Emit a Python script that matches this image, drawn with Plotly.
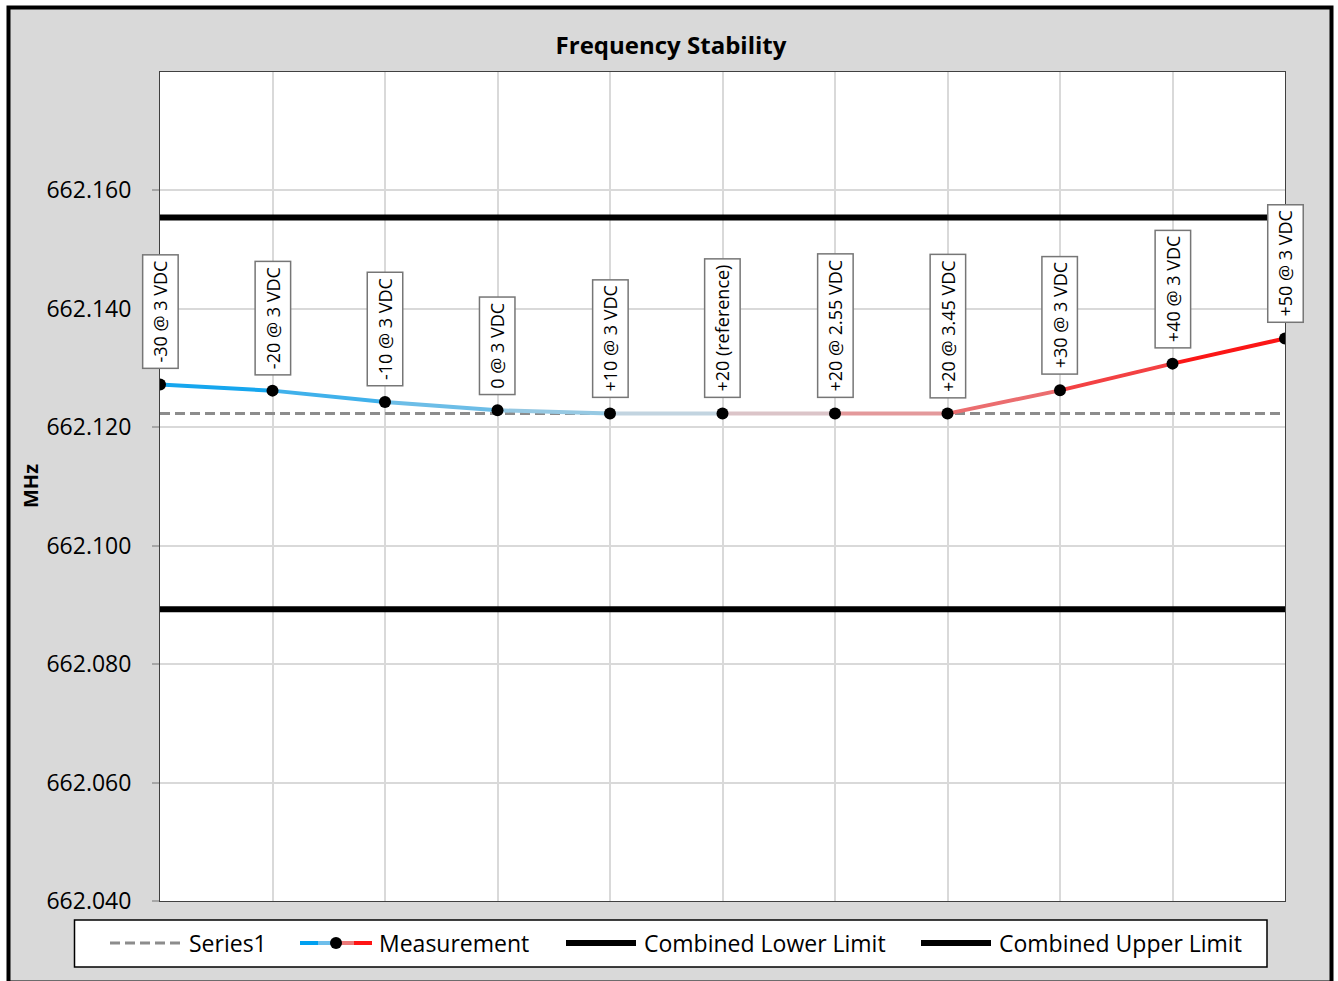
import plotly.graph_objects as go

# ---------------- data ----------------
labels = ["-30 @ 3 VDC", "-20 @ 3 VDC", "-10 @ 3 VDC", "0 @ 3 VDC", "+10 @ 3 VDC",
          "+20 (reference)", "+20 @ 2.55 VDC", "+20 @ 3.45 VDC", "+30 @ 3 VDC",
          "+40 @ 3 VDC", "+50 @ 3 VDC"]
measurement = [662.12721, 662.12619, 662.12427, 662.12287, 662.12231, 662.12231,
               662.12231, 662.12231, 662.12624, 662.13075, 662.13499]
series1 = [662.12231] * len(labels)
lower_limit = [662.08928] * len(labels)
upper_limit = [662.15544] * len(labels)
y_ticks = [662.040, 662.060, 662.080, 662.100, 662.120, 662.140, 662.160]
y_range = [662.040, 662.180]

# ---------------- layout helpers ----------------
W, H = 1338, 981
L, R, T, B = 160, 53, 72, 80
PW, PH = W - L - R, H - T - B


def fx(p):
    return (p - L) / PW


def fy(p):
    return (H - B - p) / PH


FONT = "'Open Sans', Lato, sans-serif"
xs = list(range(len(labels)))

# gradient colour stops for the measurement line
stops = [(0.0, (0, 160, 240)), (0.5, (215, 218, 222)), (1.0, (255, 0, 0))]


def grad(t):
    for (t0, c0), (t1, c1) in zip(stops[:-1], stops[1:]):
        if t0 <= t <= t1:
            f = (t - t0) / (t1 - t0)
            c = [round(a + (b - a) * f) for a, b in zip(c0, c1)]
            return "rgb(%d,%d,%d)" % tuple(c)
    return "rgb(255,0,0)"


fig = go.Figure()

fig.add_trace(go.Scatter(x=xs, y=series1, mode="lines", name="Series1",
                         line=dict(color="#8c8c8c", width=3, dash="10px,5px"),
                         showlegend=False, hoverinfo="skip"))
fig.add_trace(go.Scatter(x=xs, y=lower_limit, mode="lines", name="Combined Lower Limit",
                         line=dict(color="black", width=6), showlegend=False))
fig.add_trace(go.Scatter(x=xs, y=upper_limit, mode="lines", name="Combined Upper Limit",
                         line=dict(color="black", width=6), showlegend=False))

n = len(xs)
for i in range(n - 1):
    t = (i + 0.5) / (n - 1)
    fig.add_trace(go.Scatter(x=xs[i:i + 2], y=measurement[i:i + 2], mode="lines",
                             line=dict(color=grad(t), width=4), showlegend=False,
                             hoverinfo="skip", name="Measurement"))
fig.add_trace(go.Scatter(x=xs, y=measurement, mode="markers", name="Measurement",
                         marker=dict(color="black", size=12), showlegend=False,
                         text=labels))

annotations = []
for i, lab in enumerate(labels):
    annotations.append(dict(x=xs[i], y=measurement[i], xref="x", yref="y", text=lab,
                            textangle=-90, showarrow=False, yanchor="bottom",
                            xanchor="center", yshift=15,
                            font=dict(family=FONT, size=18, color="black"),
                            bgcolor="white", bordercolor="#767676", borderwidth=1.5,
                            borderpad=5))

# y axis title
annotations.append(dict(x=fx(30), y=fy(486), xref="paper", yref="paper", text="<b>MHz</b>",
                        textangle=-90, showarrow=False, xanchor="center", yanchor="middle",
                        font=dict(family=FONT, size=20, color="black")))

shapes = []
# outer chart area
shapes.append(dict(type="rect", xref="paper", yref="paper", x0=fx(8.5), x1=fx(1331.5),
                   y0=fy(982.5), y1=fy(7.5), fillcolor="#d9d9d9",
                   line=dict(color="black", width=4), layer="below"))
shapes.append(dict(type="rect", xref="paper", yref="paper", x0=0, x1=1, y0=0, y1=1,
                   fillcolor="white", line=dict(width=0), layer="below"))

# custom legend
ly = fy(943)
shapes.append(dict(type="rect", xref="paper", yref="paper", x0=fx(74.5), x1=fx(1267),
                   y0=fy(967), y1=fy(920), fillcolor="white",
                   line=dict(color="black", width=1.5), layer="above"))
shapes.append(dict(type="line", xref="paper", yref="paper", x0=fx(110), x1=fx(182),
                   y0=ly, y1=ly, line=dict(color="#8c8c8c", width=3, dash="10px,5px")))
leg_cols = ["rgb(0,160,240)", "rgb(110,190,235)", "rgb(235,120,120)", "rgb(255,20,20)"]
seg = [300, 318, 336, 354, 372]
for k in range(4):
    shapes.append(dict(type="line", xref="paper", yref="paper", x0=fx(seg[k]), x1=fx(seg[k + 1]),
                       y0=ly, y1=ly, line=dict(color=leg_cols[k], width=4)))
shapes.append(dict(type="circle", xref="paper", yref="paper", x0=fx(330), x1=fx(342),
                   y0=fy(949), y1=fy(937), fillcolor="black", line=dict(color="black", width=0)))
shapes.append(dict(type="line", xref="paper", yref="paper", x0=fx(566), x1=fx(636),
                   y0=ly, y1=ly, line=dict(color="black", width=6)))
shapes.append(dict(type="line", xref="paper", yref="paper", x0=fx(921), x1=fx(991),
                   y0=ly, y1=ly, line=dict(color="black", width=6)))

leg_text = [("Series1", 187), ("Measurement", 377), ("Combined Lower Limit", 642),
            ("Combined Upper Limit", 997)]
for txt, px in leg_text:
    annotations.append(dict(x=fx(px), y=ly, xref="paper", yref="paper", text=txt,
                            showarrow=False, xanchor="left", yanchor="middle",
                            font=dict(family=FONT, size=23, color="black")))

fig.update_layout(
    width=W, height=H,
    margin=dict(l=L, r=R, t=T, b=B, pad=0),
    paper_bgcolor="white", plot_bgcolor="white",
    showlegend=False,
    title=dict(text="<b>Frequency Stability</b>", x=671 / W, xanchor="center",
               y=1 - 46 / H, yanchor="middle", yref="container", xref="container",
               font=dict(family=FONT, size=24, color="black")),
    xaxis=dict(range=[0, 10], tickvals=xs, showticklabels=False, showgrid=True,
               gridcolor="#d9d9d9", gridwidth=1.5, zeroline=False, ticks="",
               showline=True, linecolor="#404040", linewidth=1, mirror=True),
    yaxis=dict(range=y_range, tickvals=y_ticks, tickformat=".3f", showgrid=True,
               gridcolor="#d9d9d9", gridwidth=1.5, zeroline=False, ticks="outside",
               ticklen=7, tickcolor="#a6a6a6", tickwidth=1.5, ticklabelstandoff=16,
               tickfont=dict(family=FONT, size=23, color="black"),
               showline=True, linecolor="#404040", linewidth=1, mirror=True),
    annotations=annotations, shapes=shapes,
)

fig.write_html("out.html", config={"displayModeBar": False},
               post_script="document.body.style.margin='0px';")
